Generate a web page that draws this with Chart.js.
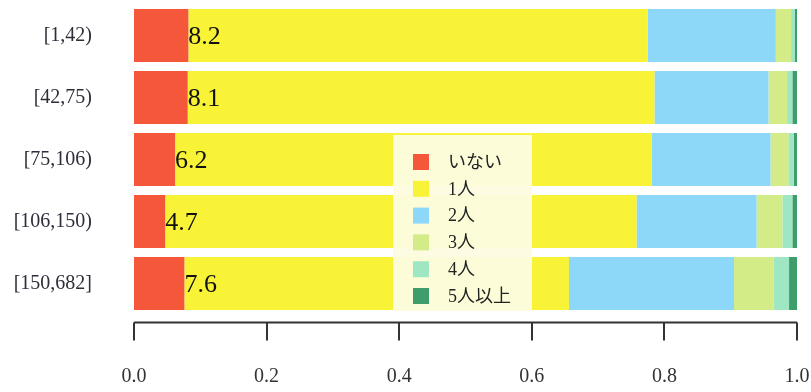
<!DOCTYPE html>
<html>
<head>
<meta charset="utf-8">
<script src="https://cdn.jsdelivr.net/npm/chart.js@4/dist/chart.umd.min.js"></script>
<style>
    html, body { margin: 0; padding: 0; background: #fff; }
    #wrap { width: 811px; height: 392px; position: relative; }
</style>
</head>
<body>
<div id="wrap"><canvas id="chart"></canvas></div>
<script>
// 世帯あたりの子供の数 (割合) by group
const groups = ['[1,42)', '[42,75)', '[75,106)', '[106,150)', '[150,682]'];
const seriesNames = ['いない', '1人', '2人', '3人', '4人', '5人以上'];
const none = [0.082, 0.081, 0.062, 0.047, 0.076];
const one = [0.693, 0.704, 0.719, 0.711, 0.580];
const two = [0.193, 0.172, 0.179, 0.181, 0.249];
const three = [0.023, 0.028, 0.027, 0.039, 0.060];
const four = [0.006, 0.008, 0.008, 0.015, 0.023];
const fiveUp = [0.003, 0.007, 0.005, 0.007, 0.012];
const xTicks = [0, 0.2, 0.4, 0.6, 0.8, 1.0];

const colors = ['#F5573A', '#F8F337', '#8DD7F8', '#D3EC87', '#9FE7C3', '#3F9D6B'];
const serif = '"Liberation Serif", "Times New Roman", serif';

function makeSet(i, values) {
    return {
        label: seriesNames[i],
        data: values,
        backgroundColor: colors[i],
        borderWidth: 0,
        barPercentage: 0.855,
        categoryPercentage: 1.0
    };
}

// R-style axis line below the bars
const axisPlugin = {
    id: 'axisLine',
    afterDraw(chart) {
        const ctx = chart.ctx;
        const xs = chart.scales.x;
        const y0 = chart.chartArea.bottom + 8;
        ctx.save();
        ctx.strokeStyle = '#333';
        ctx.lineWidth = 2;
        ctx.beginPath();
        ctx.moveTo(xs.getPixelForValue(0), y0);
        ctx.lineTo(xs.getPixelForValue(1), y0);
        xTicks.forEach(v => {
            const px = Math.round(xs.getPixelForValue(v));
            ctx.moveTo(px, y0);
            ctx.lineTo(px, y0 + 18);
        });
        ctx.stroke();
        ctx.restore();
    }
};

// percentage labels at the end of the red segment
const labelPlugin = {
    id: 'pctLabels',
    afterDatasetsDraw(chart) {
        const ctx = chart.ctx;
        const meta = chart.getDatasetMeta(0);
        ctx.save();
        ctx.font = '26px ' + serif;
        ctx.fillStyle = '#111';
        ctx.textAlign = 'left';
        ctx.textBaseline = 'middle';
        meta.data.forEach((bar, i) => {
            ctx.fillText((none[i] * 100).toFixed(1), bar.x, bar.y + 2);
        });
        ctx.restore();
    }
};

// legend box drawn over the middle of the bars
const legendPlugin = {
    id: 'boxLegend',
    afterDatasetsDraw(chart) {
        const ctx = chart.ctx;
        const left = 393, top = 135, w = 139, h = 176;
        ctx.save();
        ctx.fillStyle = 'rgba(253, 252, 226, 0.95)';
        ctx.fillRect(left, top, w, h);
        ctx.font = '18px ' + serif + ', "Noto Sans CJK JP"';
        ctx.textAlign = 'left';
        ctx.textBaseline = 'middle';
        chart.data.datasets.forEach((ds, i) => {
            const cy = 162 + i * 26.8;
            ctx.fillStyle = ds.backgroundColor;
            ctx.fillRect(413, cy - 8, 16, 16);
            ctx.fillStyle = '#222';
            ctx.fillText(ds.label, 448, cy + 1);
        });
        ctx.restore();
    }
};

const data = {
    labels: groups,
    datasets: [
        makeSet(0, none),
        makeSet(1, one),
        makeSet(2, two),
        makeSet(3, three),
        makeSet(4, four),
        makeSet(5, fiveUp)
    ]
};

const config = {
    type: 'bar',
    data: data,
    options: {
        indexAxis: 'y',
        responsive: true,
        maintainAspectRatio: false,
        animation: false,
        layout: { padding: { top: 4.5, right: 14, left: 0, bottom: 0 } },
        plugins: {
            legend: { display: false },
            tooltip: { enabled: false }
        },
        scales: {
            x: {
                stacked: true,
                min: 0,
                max: 1,
                afterBuildTicks: (scale) => { scale.ticks = xTicks.map(v => ({ value: v })); },
                afterFit: (scale) => {
                    scale.height = 77.5;
                    scale.paddingLeft = 0;
                    scale.paddingRight = 0;
                },
                grid: { display: false, drawTicks: false },
                border: { display: false },
                ticks: {
                    padding: 50,
                    maxRotation: 0,
                    color: '#333',
                    font: { family: serif, size: 20 },
                    callback: (v) => Number(v).toFixed(1)
                }
            },
            y: {
                stacked: true,
                afterFit: (scale) => {
                    scale.width = 134;
                    scale.paddingTop = 0;
                    scale.paddingBottom = 0;
                },
                grid: { display: false, drawTicks: false },
                border: { display: false },
                ticks: {
                    padding: 42,
                    color: '#2e2e3a',
                    font: { family: serif, size: 20 }
                }
            }
        }
    },
    plugins: [axisPlugin, labelPlugin, legendPlugin]
};

let ctx = document.getElementById('chart').getContext('2d');
new Chart(ctx, config);
</script>
</body>
</html>
